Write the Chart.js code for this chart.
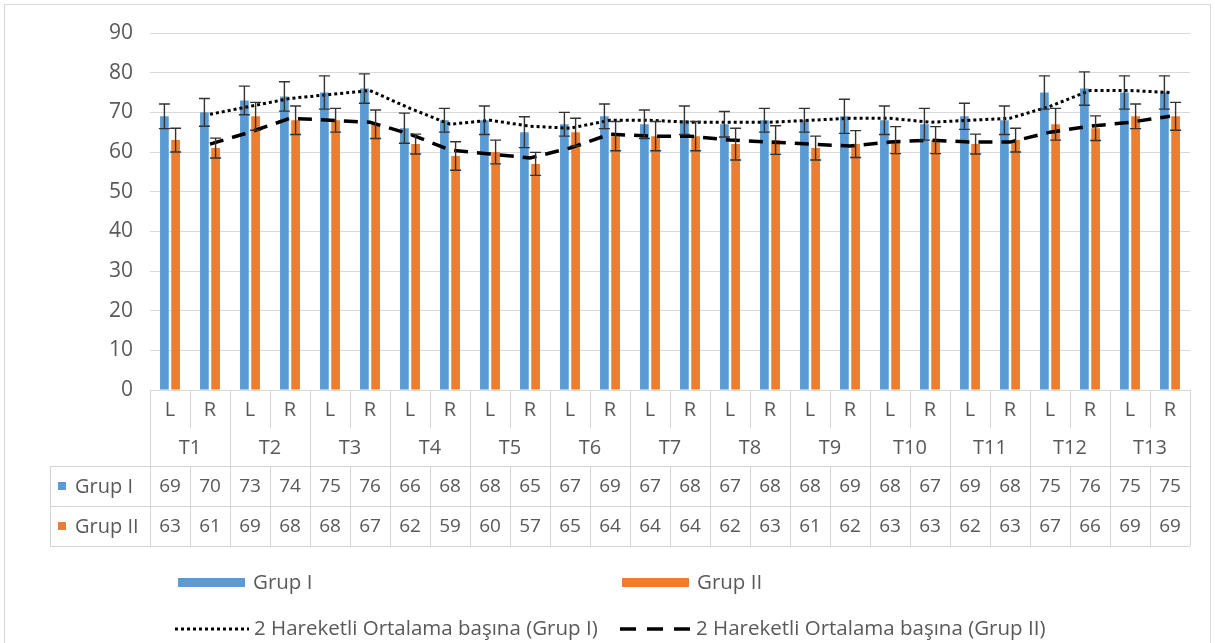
<!DOCTYPE html>
<html>
<head>
<meta charset="utf-8">
<script src="https://cdn.jsdelivr.net/npm/chart.js@4"></script>
<style>
    body { margin: 0; background: #fff; }
    canvas { display: block; }
</style>
</head>
<body>
<canvas id="chart" width="1215" height="643"></canvas>
<script>
// Measurement groups and sides
const groups = ['T1', 'T2', 'T3', 'T4', 'T5', 'T6', 'T7', 'T8', 'T9', 'T10', 'T11', 'T12', 'T13'];
const sides = ['L', 'R'];

// Mean values per group / side
const grup1 = [69, 70, 73, 74, 75, 76, 66, 68, 68, 65, 67, 69, 67, 68, 67, 68, 68, 69, 68, 67, 69, 68, 75, 76, 75, 75];
const grup2 = [63, 61, 69, 68, 68, 67, 62, 59, 60, 57, 65, 64, 64, 64, 62, 63, 61, 62, 63, 63, 62, 63, 67, 66, 69, 69];

// Error bar half-lengths
const errGrup1 = [3.1, 3.5, 3.6, 3.7, 4.2, 3.7, 3.8, 3.0, 3.6, 3.9, 3.0, 3.1, 3.6, 3.6, 3.2, 3.0, 3.0, 4.3, 3.6, 4.0, 3.3, 3.6, 4.2, 4.2, 4.2, 4.2];
const errGrup2 = [3.0, 2.5, 3.5, 3.6, 3.0, 3.6, 2.5, 3.6, 3.0, 2.9, 3.5, 3.7, 3.7, 3.7, 4.0, 3.6, 3.0, 3.4, 3.4, 3.4, 2.5, 3.0, 4.0, 3.1, 3.1, 3.5];

// 2-period moving averages
const maGrup1 = [null, 69.5, 71.5, 73.5, 74.5, 75.5, 71, 67, 68, 66.5, 66, 68, 68, 67.5, 67.5, 67.5, 68, 68.5, 68.5, 67.5, 68, 68.5, 71.5, 75.5, 75.5, 75];
const maGrup2 = [null, 62, 65, 68.5, 68, 67.5, 64.5, 60.5, 59.5, 58.5, 61, 64.5, 64, 64, 63, 62.5, 62, 61.5, 62.5, 63, 62.5, 62.5, 65, 66.5, 67.5, 69];

// Y axis ticks
const yTicks = [0, 10, 20, 30, 40, 50, 60, 70, 80, 90];

const labels = [];
groups.forEach(g => sides.forEach(s => labels.push(g + ' ' + s)));

const BLUE = '#5B9BD5';
const ORANGE = '#ED7D31';
const TEXT = '#595959';
const LINE = '#D4D4D4';
const FONT = '"Open Sans", sans-serif';
const DOTS = [3, 3];
const DASHES = [14, 9];

// Error bars on top of the columns
const errorBars = {
    id: 'errorBars',
    afterDatasetsDraw(chart) {
        const ctx = chart.ctx;
        const y = chart.scales.y;
        const sets = [[0, grup1, errGrup1], [1, grup2, errGrup2]];
        ctx.save();
        ctx.strokeStyle = '#333';
        ctx.lineWidth = 1.4;
        sets.forEach(([idx, vals, errs]) => {
            chart.getDatasetMeta(idx).data.forEach((bar, i) => {
                const top = y.getPixelForValue(vals[i] + errs[i]);
                const bot = y.getPixelForValue(vals[i] - errs[i]);
                ctx.beginPath();
                ctx.moveTo(bar.x, top);
                ctx.lineTo(bar.x, bot);
                ctx.moveTo(bar.x - 5.5, top);
                ctx.lineTo(bar.x + 5.5, top);
                ctx.moveTo(bar.x - 5.5, bot);
                ctx.lineTo(bar.x + 5.5, bot);
                ctx.stroke();
            });
        });
        ctx.restore();
    }
};

// Category axis with data table, legend and outer frame
const dataTable = {
    id: 'dataTable',
    afterDraw(chart) {
        const ctx = chart.ctx;
        const x = chart.scales.x;
        const area = chart.chartArea;
        const band = (area.right - area.left) / labels.length;
        const top = area.bottom;
        const sideBottom = top + 38;
        const groupBottom = top + 76;
        const row1 = groupBottom + 40;
        const row2 = row1 + 40;
        const headLeft = 50;

        ctx.save();
        ctx.strokeStyle = LINE;
        ctx.lineWidth = 1;
        ctx.beginPath();
        for (let k = 0; k <= labels.length; k++) {
            const bx = Math.round(area.left + k * band) + 0.5;
            if (k % 2 === 0) {
                ctx.moveTo(bx, top);
                ctx.lineTo(bx, row2);
            } else {
                ctx.moveTo(bx, top);
                ctx.lineTo(bx, sideBottom);
                ctx.moveTo(bx, groupBottom);
                ctx.lineTo(bx, row2);
            }
        }
        ctx.moveTo(headLeft + 0.5, groupBottom);
        ctx.lineTo(headLeft + 0.5, row2);
        [groupBottom, row1, row2].forEach(h => {
            ctx.moveTo(headLeft, h + 0.5);
            ctx.lineTo(area.right, h + 0.5);
        });
        ctx.stroke();

        // outer chart frame
        ctx.strokeStyle = '#D9D9D9';
        ctx.strokeRect(4.5, 4.5, 1206, 640);

        ctx.fillStyle = TEXT;
        ctx.textAlign = 'center';
        ctx.textBaseline = 'middle';
        ctx.font = '20px ' + FONT;
        labels.forEach((_, i) => {
            ctx.fillText(sides[i % 2], x.getPixelForValue(i), (top + sideBottom) / 2 + 1);
        });
        groups.forEach((g, j) => {
            const cx = (x.getPixelForValue(2 * j) + x.getPixelForValue(2 * j + 1)) / 2;
            ctx.fillText(g, cx, (sideBottom + groupBottom) / 2 + 1);
        });
        ctx.font = '19px ' + FONT;
        labels.forEach((_, i) => {
            const cx = x.getPixelForValue(i);
            ctx.fillText(grup1[i], cx, (groupBottom + row1) / 2 + 1);
            ctx.fillText(grup2[i], cx, (row1 + row2) / 2 + 1);
        });

        // row headers
        ctx.textAlign = 'left';
        ctx.font = '20px ' + FONT;
        ctx.fillStyle = BLUE;
        ctx.fillRect(58, (groupBottom + row1) / 2 - 4, 8, 8);
        ctx.fillStyle = ORANGE;
        ctx.fillRect(58, (row1 + row2) / 2 - 4, 8, 8);
        ctx.fillStyle = TEXT;
        ctx.fillText('Grup I', 75, (groupBottom + row1) / 2 + 1);
        ctx.fillText('Grup II', 75, (row1 + row2) / 2 + 1);

        // legend
        const ly1 = 583;
        const ly2 = 629;
        ctx.font = '20.5px ' + FONT;
        ctx.fillStyle = BLUE;
        ctx.fillRect(178, ly1 - 5, 67, 9);
        ctx.fillStyle = ORANGE;
        ctx.fillRect(622, ly1 - 5, 67, 9);
        ctx.fillStyle = TEXT;
        ctx.fillText('Grup I', 253, ly1);
        ctx.fillText('Grup II', 697, ly1);

        ctx.strokeStyle = '#000';
        ctx.lineWidth = 3;
        ctx.setLineDash(DOTS);
        ctx.beginPath();
        ctx.moveTo(175, ly2);
        ctx.lineTo(249, ly2);
        ctx.stroke();
        ctx.setLineDash([16, 11]);
        ctx.lineWidth = 3.5;
        ctx.beginPath();
        ctx.moveTo(620, ly2);
        ctx.lineTo(690, ly2);
        ctx.stroke();
        ctx.setLineDash([]);
        ctx.fillText('2 Hareketli Ortalama başına (Grup I)', 254, ly2);
        ctx.fillText('2 Hareketli Ortalama başına (Grup II)', 696, ly2);
        ctx.restore();
    }
};

new Chart(document.getElementById('chart'), {
    type: 'bar',
    data: {
        labels: labels,
        datasets: [
            {
                label: 'Grup I',
                data: grup1,
                backgroundColor: BLUE,
                categoryPercentage: 0.56,
                barPercentage: 0.78,
                order: 2
            },
            {
                label: 'Grup II',
                data: grup2,
                backgroundColor: ORANGE,
                categoryPercentage: 0.56,
                barPercentage: 0.78,
                order: 2
            },
            {
                type: 'line',
                label: '2 Hareketli Ortalama başına (Grup I)',
                data: maGrup1,
                borderColor: '#000',
                borderWidth: 3,
                borderDash: DOTS,
                pointRadius: 0,
                fill: false,
                order: 1
            },
            {
                type: 'line',
                label: '2 Hareketli Ortalama başına (Grup II)',
                data: maGrup2,
                borderColor: '#000',
                borderWidth: 3.5,
                borderDash: DASHES,
                pointRadius: 0,
                fill: false,
                order: 1
            }
        ]
    },
    options: {
        responsive: false,
        animation: false,
        layout: {
            padding: { top: 33, left: 0, right: 25, bottom: 253 }
        },
        plugins: {
            legend: { display: false },
            tooltip: { enabled: false }
        },
        scales: {
            x: {
                display: false
            },
            y: {
                min: 0,
                max: 90,
                afterFit: scale => { scale.width = 150; },
                afterBuildTicks: scale => { scale.ticks = yTicks.map(v => ({ value: v })); },
                border: { display: false },
                grid: { color: '#D9D9D9', drawTicks: false },
                ticks: {
                    color: TEXT,
                    padding: 17,
                    font: { family: FONT, size: 21 }
                }
            }
        }
    },
    plugins: [errorBars, dataTable]
});
</script>
</body>
</html>
